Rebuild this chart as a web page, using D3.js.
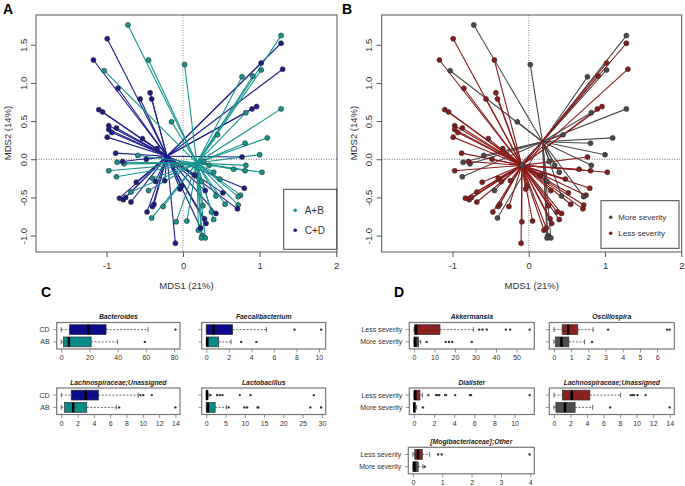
<!DOCTYPE html>
<html>
<head>
<meta charset="utf-8">
<script src="https://cdn.jsdelivr.net/npm/d3@7"></script>
<style>
  body { margin: 0; background: #fff; }
  svg { font-family: "Liberation Sans", Arial, sans-serif; }
</style>
</head>
<body>
<svg id="fig" width="685" height="486"></svg>
<script>
// ---- ordination scores (same samples in A and B)
const mds1 = [
  -0.72, 1.28, -0.45, 0.02, -1.03, 0.77, 1.02, 0.91, 0.82, 1.28,
  -0.15, 0.45, 1.10, 0.81, 1.00, -0.59, -0.86, -0.77, -0.97, -0.87,
  0.82, 0.81, 1.03, 0.66, 0.34, 0.27, 0.40, 0.48, 0.24, -0.68,
  -0.45, -0.40, -0.26, -0.41, -0.09, 0.05, 0.20, 0.25, 0.24, 0.29,
  0.40, 0.55, 0.75, 0.72, 0.72, 0.43, 0.37, 0.26, 0.16, -0.09,
  -0.99, -1.17, -0.85, -0.43, -0.41, -0.56, -1.10, -1.05, -0.97, -0.97,
  -0.87, -0.93, -0.99, -0.53, -0.34, 1.28, 1.30, 1.02, 0.96, 0.90,
  0.77, -0.88, -0.79, -0.48, -0.61, -0.83, -0.78, -0.75, -0.68, -0.47,
  -0.40, -0.38, -0.36, -0.04, -0.10, 0.28, 0.30, 0.23, 0.43, 0.80,
  0.71, 0.52, 0.29, 0.15, -0.02, -0.24
];
const mds2 = [
  1.76, 1.62, 1.30, 1.24, 1.16, 1.08, 1.17, 1.09, 0.61, 0.66,
  0.49, 0.32, 0.28, 0.21, 0.06, 0.05, -0.04, -0.06, -0.15, -0.23,
  -0.08, -0.15, -0.17, -0.13, -0.08, -0.03, -0.17, -0.26, -0.29, -0.43,
  -0.41, -0.25, -0.62, -0.77, -0.82, -0.81, -0.93, -1.00, -1.03, -1.03,
  -0.79, -0.59, -0.47, -0.49, -0.60, -0.48, -0.69, -0.61, -0.21, -0.08,
  1.58, 1.30, 0.93, 0.87, 0.79, 0.79, 0.65, 0.62, 0.44, 0.39,
  0.41, 0.35, 0.29, 0.27, 0.14, 1.52, 1.18, 1.26, 0.69, 0.66,
  0.03, 0.08, -0.03, 0.00, -0.30, -0.51, -0.53, -0.50, -0.56, -0.69,
  -0.62, -0.59, -0.29, -0.39, -1.10, -0.78, -0.84, -0.90, -0.71, -0.38,
  -0.65, -0.44, -0.41, -0.21, -0.35, -0.28
];
// A: stage group, B: severity group
const stage = d3.range(96).map(i => i < 50 ? 'A+B' : 'C+D');
const severity = [
  'M','M','L','M','M','M','M','L','M','M',
  'M','M','M','M','M','M','M','M','L','M',
  'M','L','L','L','M','M','M','L','M','L',
  'M','L','L','M','L','L','L','M','M','M',
  'L','L','L','M','L','M','L','L','L','M'
].concat(d3.range(46).map(() => 'L'))
 .map(s => s === 'M' ? 'More severity' : 'Less severity');

// group centroids
const stageCentres = [[0.18, -0.05], [-0.21, 0.04]];      // A+B, C+D
const severityCentres = [[0.18, 0.23], [-0.09, -0.08]];   // More, Less

const mdsXTicks = [-1, 0, 1, 2];
const mdsYTicks = [-1.0, -0.5, 0.0, 0.5, 1.0, 1.5];

// ---- box plots: [lower whisker, q1, median, q3, upper whisker], bottom row first
const cLabels = ['AB', 'CD'];
const dLabels = ['More severity', 'Less severity'];

const bacteroides = [[0, 1.6, 5.4, 21.2, 40], [0, 5.9, 19.3, 31.8, 61.6]];
const bacteroidesOut = [[59.3], [81]];
const faecali = [[0, 0, 0.09, 1.1, 2.2], [0, 0, 0.65, 2.34, 5.34]];
const faecaliOut = [[3.1, 4.45], [7.84, 10.2]];
const lachnoC = [[0, 0.4, 1.46, 3.13, 6.75], [0, 1.22, 3.0, 4.55, 9.43]];
const lachnoCOut = [[7.1, 14], [9.7, 10.05, 11.1]];
const lacto = [[0, 0, 0.4, 2.3, 5.2], [0, 0, 0.2, 0.35, 0.7]];
const lactoOut = [[5.8, 9.9, 10.6, 13.3, 13.5, 27, 29.8], [1.1, 2.8, 3.5, 4.2, 8.7, 11.5, 27.9]];

const akker = [[0, 0, 0.65, 2.3, 3.3], [0, 0.3, 1.1, 12.7, 29]];
const akkerOut = [[6.2, 15.5, 17.1, 18.7, 28.2], [31.8, 33.4, 35.5, 44.8, 46.9, 56.4]];
const oscillo = [[0, 0.1, 0.44, 0.87, 1.78], [0, 0.48, 0.83, 1.39, 2.28]];
const oscilloOut = [[2.22], [3.15, 6.58, 6.73]];
const dialister = [[0, 0, 0.03, 0.13, 0.27], [0, 0, 0.13, 0.6, 0.86]];
const dialisterOut = [[0.9], [1.43, 2.2, 2.36, 2.52, 3.1, 3.2, 4.1, 5.58, 5.68, 11.5]];
const lachnoD = [[0, 0.24, 1.34, 2.56, 4.68], [0, 1.02, 2.16, 4.35, 8.06]];
const lachnoDOut = [[6.8, 14.0], [9.28, 9.5, 9.7, 10.1, 11.1]];
const mogi = [[0, 0, 0.05, 0.18, 0.34], [0, 0.06, 0.17, 0.32, 0.57]];
const mogiOut = [[0.40], [0.86, 0.98, 3.98]];

const svg = d3.select('#fig');

// ---------------- ordination panels
function ordPanel(o) {
  const g = svg.append('g');
  const x = d3.scaleLinear().domain(o.xDom).range([o.left, o.right]);
  const y = d3.scaleLinear().domain([-1.215, 1.89]).range([252, 15]);

  // reference lines
  g.append('line').attr('x1', x(0)).attr('x2', x(0)).attr('y1', 15).attr('y2', 252)
    .attr('stroke', '#666').attr('stroke-width', 0.8).attr('stroke-dasharray', '1,1.5');
  g.append('line').attr('x1', o.left).attr('x2', o.right).attr('y1', y(0)).attr('y2', y(0))
    .attr('stroke', '#444').attr('stroke-width', 0.8).attr('stroke-dasharray', '1,1.5');

  const pts = mds1.map((v, i) => ({ x: v, y: mds2[i], grp: o.groups[i] }));

  // spider lines, drawn group by group
  o.order.forEach(k => {
    const c = o.centres[k];
    g.selectAll(null).data(pts.filter(p => p.grp === o.names[k])).enter()
      .append('line')
      .attr('x1', x(c[0])).attr('y1', y(c[1]))
      .attr('x2', d => x(d.x)).attr('y2', d => y(d.y))
      .attr('stroke', o.colors[k]).attr('stroke-width', 1.1);
  });

  g.selectAll('circle.pt').data(pts).enter()
    .append('circle').attr('class', 'pt')
    .attr('cx', d => x(d.x)).attr('cy', d => y(d.y)).attr('r', 2.5)
    .attr('fill', d => o.colors[o.names.indexOf(d.grp)])
    .attr('stroke', '#2a2a2a').attr('stroke-width', 0.6);

  g.append('rect').attr('x', o.left).attr('y', 15).attr('width', o.right - o.left).attr('height', 237)
    .attr('fill', 'none').attr('stroke', '#555').attr('stroke-width', 1);

  const xAxis = g.append('g').attr('transform', 'translate(0,252)')
    .call(d3.axisBottom(x).tickValues(mdsXTicks).tickSize(5).tickPadding(5).tickFormat(d => String(d)));
  const yAxis = g.append('g').attr('transform', 'translate(' + o.left + ',0)')
    .call(d3.axisLeft(y).tickValues(mdsYTicks).tickSize(5).tickFormat(d => d.toFixed(1)));
  [xAxis, yAxis].forEach(a => {
    a.select('.domain').remove();
    a.selectAll('line').attr('stroke', '#555');
    a.selectAll('text').attr('fill', '#333').style('font-size', '9.5px')
      .style('font-family', '"Liberation Sans", Arial, sans-serif');
  });
  yAxis.selectAll('text').attr('transform', 'rotate(-90)').attr('x', 0).attr('y', -9.5)
    .attr('dy', 0).style('text-anchor', 'middle');

  const cx = (o.left + o.right) / 2;
  g.append('text').attr('x', cx).attr('y', 289).attr('text-anchor', 'middle')
    .attr('fill', '#333').style('font-size', '9.5px').text('MDS1 (21%)');
  g.append('text').attr('transform', 'translate(' + (o.left - 25) + ',133) rotate(-90)')
    .attr('text-anchor', 'middle').attr('fill', '#333').style('font-size', '9.5px').text('MDS2 (14%)');

  g.append('text').attr('x', o.letterX).attr('y', 14).style('font-size', '14px')
    .style('font-weight', 'bold').text(o.letter);

  // legend
  const L = o.legend;
  g.append('rect').attr('x', L.x).attr('y', L.y).attr('width', L.w).attr('height', L.h)
    .attr('fill', '#fff').attr('stroke', '#444').attr('stroke-width', 1);
  o.names.forEach((n, k) => {
    const yy = L.y + L.first + k * L.step;
    g.append('circle').attr('cx', L.x + L.dot).attr('cy', yy).attr('r', 1.8).attr('fill', o.colors[k]);
    g.append('text').attr('x', L.x + L.text).attr('y', yy + L.fs * 0.35).attr('fill', '#333')
      .style('font-size', L.fs + 'px').text(n);
  });
}

ordPanel({
  left: 36, right: 337, xDom: [-1.92, 2.01],
  groups: stage, names: ['A+B', 'C+D'], colors: ['#16968f', '#1c1c8a'],
  centres: stageCentres, order: [1, 0], letter: 'A', letterX: 3,
  legend: { x: 283.7, y: 189.3, w: 53, h: 60, first: 21, step: 20, dot: 11.5, text: 21, fs: 10 }
});
ordPanel({
  left: 381.7, right: 681.7, xDom: [-1.927, 2.005],
  groups: severity, names: ['More severity', 'Less severity'], colors: ['#4a4a4a', '#8b1c1c'],
  centres: severityCentres, order: [0, 1], letter: 'B', letterX: 342,
  legend: { x: 601, y: 200.7, w: 78, h: 47.6, first: 16.6, step: 16, dot: 9.7, text: 17.3, fs: 8 }
});

// ---------------- box plot panels
function boxPanel(b) {
  const g = svg.append('g');
  const all = b.stats.flat().concat(b.outs.flat());
  const lo = d3.min(all), hi = d3.max(all), pad = (hi - lo) * 0.04;
  const x = d3.scaleLinear().domain([lo - pad, hi + pad]).range([b.x0, b.x1]);
  const y = d3.scaleLinear().domain([0.42, 2.58]).range([b.y0 + 26.5, b.y0]);
  const bh = (y(0.6) - y(1.4)) / 2;

  g.append('text').attr('x', (b.x0 + b.x1) / 2).attr('y', b.y0 - 3.5).attr('text-anchor', 'middle')
    .style('font-size', '6.8px').style('font-weight', 'bold').style('font-style', 'italic')
    .attr('fill', '#222').text(b.title);

  b.stats.forEach((s, k) => {
    const cy = y(k + 1);
    // whiskers
    [[s[0], s[1]], [s[3], s[4]]].forEach(w => {
      g.append('line').attr('x1', x(w[0])).attr('x2', x(w[1])).attr('y1', cy).attr('y2', cy)
        .attr('stroke', '#444').attr('stroke-width', 0.8).attr('stroke-dasharray', '2,1.5');
    });
    [s[0], s[4]].forEach(v => {
      g.append('line').attr('x1', x(v)).attr('x2', x(v)).attr('y1', cy - bh / 2).attr('y2', cy + bh / 2)
        .attr('stroke', '#444').attr('stroke-width', 0.8);
    });
    g.append('rect').attr('x', x(s[1])).attr('y', cy - bh).attr('width', Math.max(x(s[3]) - x(s[1]), 0.5))
      .attr('height', bh * 2).attr('fill', b.fills[k]).attr('stroke', '#333').attr('stroke-width', 0.7);
    g.append('line').attr('x1', x(s[2])).attr('x2', x(s[2])).attr('y1', cy - bh).attr('y2', cy + bh)
      .attr('stroke', '#000').attr('stroke-width', 2.5);
    g.selectAll(null).data(b.outs[k]).enter().append('circle')
      .attr('cx', d => x(d)).attr('cy', cy).attr('r', 1.2).attr('fill', '#333');
    // y tick + label
    g.append('line').attr('x1', b.x0).attr('x2', b.x0 - 3.5).attr('y1', cy).attr('y2', cy)
      .attr('stroke', '#666').attr('stroke-width', 0.7);
    if (b.labels) {
      g.append('text').attr('x', b.x0 - 7).attr('y', cy + 2.4).attr('text-anchor', 'end')
        .attr('fill', '#333').style('font-size', '7px').text(b.labels[k]);
    }
  });

  g.append('rect').attr('x', b.x0).attr('y', b.y0).attr('width', b.x1 - b.x0).attr('height', 26.5)
    .attr('fill', 'none').attr('stroke', '#777').attr('stroke-width', 1.2);

  const ax = g.append('g').attr('transform', 'translate(0,' + (b.y0 + 26.5) + ')')
    .call(d3.axisBottom(x).tickValues(b.ticks).tickSize(3.5).tickPadding(3).tickFormat(d => String(d)));
  ax.select('.domain').remove();
  ax.selectAll('line').attr('stroke', '#666').attr('stroke-width', 0.7);
  ax.selectAll('text').attr('fill', '#333').style('font-size', '7px')
    .style('font-family', '"Liberation Sans", Arial, sans-serif');
}

const cFill = ['#068b88', '#0b0b8c'];
const dFill = ['#4d4d4d', '#8b2222'];
const colL = [56.7, 180], colR = [201.7, 325.7];
const colDL = [409.3, 534.3], colDR = [549.3, 674.3];

boxPanel({ x0: colL[0], x1: colL[1], y0: 322.5, title: 'Bacteroides', stats: bacteroides, outs: bacteroidesOut,
  fills: cFill, labels: cLabels, ticks: [0, 20, 40, 60, 80] });
boxPanel({ x0: colR[0], x1: colR[1], y0: 322.5, title: 'Faecalibacterium', stats: faecali, outs: faecaliOut,
  fills: cFill, labels: null, ticks: [0, 2, 4, 6, 8, 10] });
boxPanel({ x0: colL[0], x1: colL[1], y0: 388, title: 'Lachnospiraceae;Unassigned', stats: lachnoC, outs: lachnoCOut,
  fills: cFill, labels: cLabels, ticks: [0, 2, 4, 6, 8, 10, 12, 14] });
boxPanel({ x0: colR[0], x1: colR[1], y0: 388, title: 'Lactobacillus', stats: lacto, outs: lactoOut,
  fills: cFill, labels: null, ticks: [0, 5, 10, 15, 20, 25, 30] });

boxPanel({ x0: colDL[0], x1: colDL[1], y0: 322.5, title: 'Akkermansia', stats: akker, outs: akkerOut,
  fills: dFill, labels: dLabels, ticks: [0, 10, 20, 30, 40, 50] });
boxPanel({ x0: colDR[0], x1: colDR[1], y0: 322.5, title: 'Oscillospira', stats: oscillo, outs: oscilloOut,
  fills: dFill, labels: null, ticks: [0, 1, 2, 3, 4, 5, 6] });
boxPanel({ x0: colDL[0], x1: colDL[1], y0: 388, title: 'Dialister', stats: dialister, outs: dialisterOut,
  fills: dFill, labels: dLabels, ticks: [0, 2, 4, 6, 8, 10] });
boxPanel({ x0: colDR[0], x1: colDR[1], y0: 388, title: 'Lachnospiraceae;Unassigned', stats: lachnoD, outs: lachnoDOut,
  fills: dFill, labels: null, ticks: [0, 2, 4, 6, 8, 10, 12, 14] });
boxPanel({ x0: 408.3, x1: 534.3, y0: 447.3, title: '[Mogibacteriaceae];Other', stats: mogi, outs: mogiOut,
  fills: dFill, labels: dLabels, ticks: [0, 1, 2, 3, 4] });

svg.append('text').attr('x', 41).attr('y', 297).style('font-size', '14px').style('font-weight', 'bold').text('C');
svg.append('text').attr('x', 394).attr('y', 297).style('font-size', '14px').style('font-weight', 'bold').text('D');
</script>
</body>
</html>
